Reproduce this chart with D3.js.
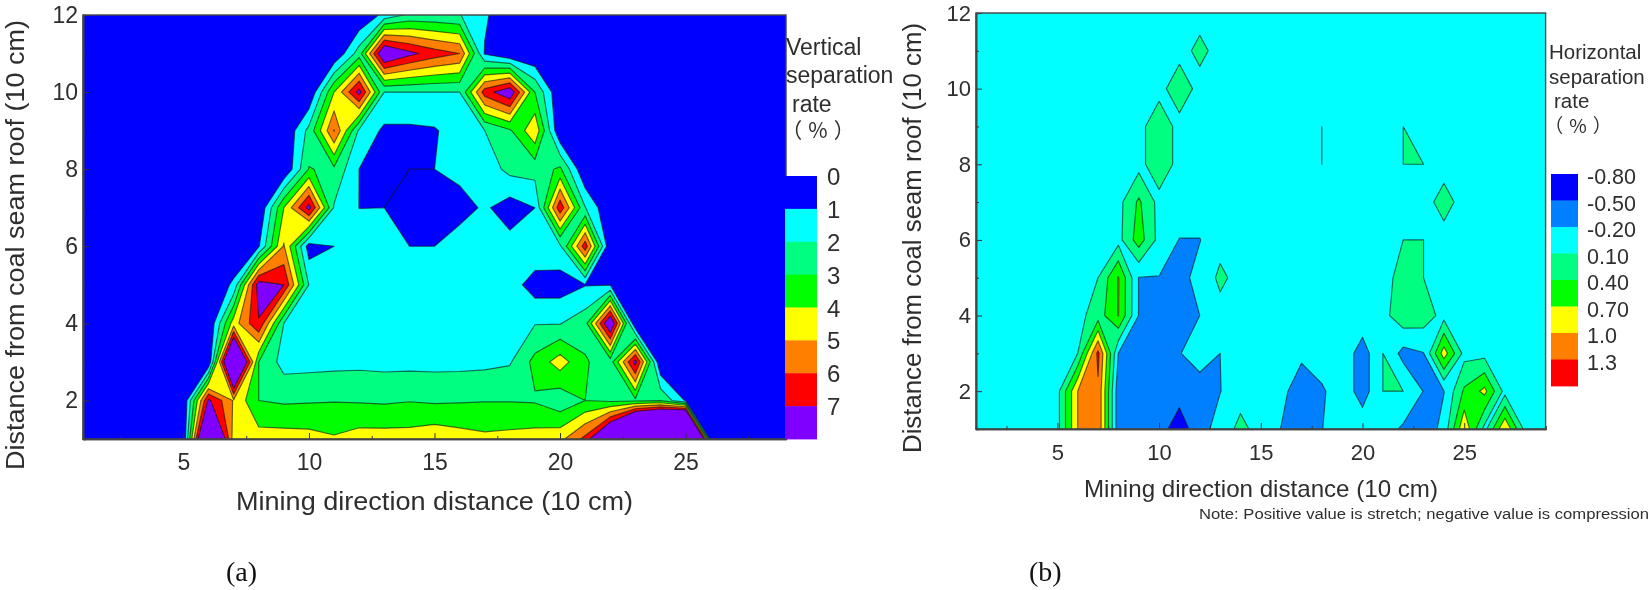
<!DOCTYPE html>
<html><head><meta charset="utf-8">
<script src="https://cdn.jsdelivr.net/npm/d3@7"></script>
<style>
html,body{margin:0;padding:0;background:#fff;overflow:hidden}
svg{display:block;filter:blur(.7px)}
text{font-family:"Liberation Sans",Arial,sans-serif;fill:#2e2e2e}
.serif{font-family:"Liberation Serif","Times New Roman",serif;fill:#111}
</style></head><body><svg id="c" width="1650" height="590"></svg>
<script>
// Panel (a): vertical separation rate, rows by y, columns x = 1..29
const vY12=[0,0,0,0,0,0,0,0,0,0,0,0,1.3,2.2,2.2,2.05,1.2,0,0,0,0,0,0,0,0,0,0,0,0];
const vY11=[0,0,0,0,0,0,0,0,0,0,0,2.5,8.5,7.3,6.5,6,.9,0,0,0,0,0,0,0,0,0,0,0,0];
const vY10=[0,0,0,0,0,0,0,0,0,0,4,7.4,2,2,2,2,6.5,7.9,3,0,0,0,0,0,0,0,0,0,0];
const vY9=[0,0,0,0,0,0,0,0,0,2.3,6.05,1.8,.8,.8,.9,1.5,2,2.85,4.8,0,0,0,0,0,0,0,0,0,0];
const vY8=[0,0,0,0,0,0,0,0,0,3.05,2.8,.99,.5,1,1,1.3,1.4,2.3,2.4,3.2,0,0,0,0,0,0,0,0,0];
const vY7=[0,0,0,0,0,0,0,0,4,7.4,1.9,.99,1,.5,.4,.6,1.15,.5,1,6.7,2.05,0,0,0,0,0,0,0,0];
const vY6=[0,0,0,0,0,0,0,.9,5.1,.5,1,1.5,1.5,1,1,1.5,1.5,1.36,1.85,1.8,6.6,0,0,0,0,0,0,0,0];
const vY5=[0,0,0,0,0,0,1.2,7.6,7,1.95,1.6,1.5,1.5,1.5,1.5,1.5,1.5,1.5,.5,.5,.95,.95,0,0,0,0,0,0,0];
const vY4=[0,0,0,0,0,0,4.5,6.9,2,1.5,1.5,1.5,1.5,1.5,1.5,1.5,1.5,1.6,1.95,1.95,2.6,8.4,0,0,0,0,0,0,0];
const vY3=[0,0,0,0,0,0,11.6,3,1.6,1.65,1.7,1.75,1.7,1.7,1.7,1.7,1.75,1.9,3.3,4.5,3.1,2.5,7.4,0,0,0,0,0,0];
const vY2=[0,0,0,0,0,7.2,4.9,3,2.85,2.9,2.95,2.9,2.85,2.95,2.85,2.9,2.95,2.95,2.9,2.3,3,2.8,2.8,2.9,.9,0,0,0,0];
const vY1=[0,0,0,0,0,12,4.5,4.45,4.45,4.38,4.12,4.45,4.45,4.45,4.7,4.45,4.24,4.33,4.45,4.7,6.3,10.3,17.6,21.4,26,0,0,0,0];
const verticalRows=[vY1,vY2,vY3,vY4,vY5,vY6,vY7,vY8,vY9,vY10,vY11,vY12];
const verticalLevels=[1,2,3,4,5,6,7];
const verticalLegendLabels=["0","1","2","3","4","5","6","7"];
const verticalColors=["#0000ff","#00ffff","#00ff80","#00ff00","#ffff00","#ff8000","#ff0000","#8000ff"];

// Panel (b): horizontal separation rate
const hY12=[0,0,0,0,0,0,0,0,0,0,0,0,0,0,0,0,0,0,0,0,0,0,0,0,0,0,0,0,0];
const hY11=[0,0,0,0,0,0,0,0,0,0,0,.17,0,0,0,0,0,0,0,0,0,0,0,0,0,0,0,0,0];
const hY10=[0,0,0,0,0,0,0,0,0,0,.28,0,0,0,0,0,0,0,0,0,0,0,0,0,0,0,0,0,0];
const hY9=[0,0,0,0,0,0,0,0,0,.3,0,0,0,0,0,0,0,.1,0,0,0,.1,0,0,0,0,0,0,0];
const hY8=[0,0,0,0,0,0,0,0,0,.3,0,0,0,0,0,0,0,.1,0,0,0,.1,.1,0,0,0,0,0,0];
const hY7=[0,0,0,0,0,0,0,0,.45,0,0,0,0,0,0,0,0,0,0,0,0,0,0,.2,0,0,0,0,0];
const hY6=[0,0,0,0,0,0,0,0,.55,0,-.21,-.21,0,0,0,0,0,0,0,0,0,.1,.1,0,0,0,0,0,0];
const hY5=[0,0,0,0,0,0,.1,.72,-.21,-.21,-.3,-.1,.16,0,0,0,0,0,0,0,0,.2,.1,0,0,0,0,0,0];
const hY4=[0,0,0,0,0,0,.25,.71,-.21,-.3,-.3,-.2,0,0,0,0,0,0,0,0,0,.3,.25,0,0,0,0,0,0];
const hY3=[0,0,0,0,0,.1,1.38,-.21,-.3,-.3,-.21,-.1,-.2,0,0,0,-.13,0,0,-.35,.1,-.3,-.21,.85,0,0,0,0,0];
const hY2=[0,0,0,0,0,1,1.25,-.4,-.4,-.4,-.4,-.3,-.21,0,0,-.1,-.4,-.25,0,-.35,.1,.1,-.21,-.21,.45,.78,0,0,0];
const hY1=[0,0,0,0,0,1,1.25,-.4,-.4,-.4,-.63,-.35,-.05,.17,0,-.21,-.4,-.21,0,0,-.05,-.25,-.4,-.1,.95,0,.98,0,0];
const horizontalRows=[hY1,hY2,hY3,hY4,hY5,hY6,hY7,hY8,hY9,hY10,hY11,hY12];
const horizontalLevels=[-.5,-.2,.1,.4,.7,1,1.3];
const horizontalLegendLabels=["-0.80","-0.50","-0.20","0.10","0.40","0.70","1.0","1.3"];
const horizontalColors=["#0000ff","#0080ff","#00ffff","#00ff80","#00ff00","#ffff00","#ff8000","#ff0000"];

const xMajor=[5,10,15,20,25];
const xMinor=[2.5,7.5,12.5,17.5,22.5,27.5];
const yMajor=[2,4,6,8,10,12];
const yMinor=[1,3,5,7,9,11];

const svg=d3.select("#c");
const nx=29, ny=12;
const LINE={stroke:"#111",op:.62,w:1.15};

function panel(o){
  const x=d3.scaleLinear().domain([1,29]).range([o.l,o.r]);
  const y=d3.scaleLinear().domain([1,12]).range([o.b,o.t]);
  const g=svg.append("g");
  const id="clip"+o.id;
  svg.append("clipPath").attr("id",id).append("rect")
    .attr("x",o.l).attr("y",o.t).attr("width",o.r-o.l).attr("height",o.b-o.t);
  const plot=g.append("g").attr("clip-path",`url(#${id})`);
  plot.append("rect").attr("x",o.l).attr("y",o.t).attr("width",o.r-o.l).attr("height",o.b-o.t).attr("fill",o.colors[0]);
  const vals=o.rows.flat();
  const path=d3.geoPath(d3.geoTransform({point(cx,cy){this.stream.point(x(cx+.5),y(cy+.5));}}));
  const cs=d3.contours().size([nx,ny]).thresholds(o.levels)(vals);
  plot.selectAll("path.f").data(cs).join("path").attr("class","f")
    .attr("d",path).attr("fill",(d,i)=>o.colors[i+1])
    .attr("stroke",d=>d.value===o.ridgeLevel?"none":LINE.stroke)
    .attr("stroke-opacity",LINE.op).attr("stroke-width",LINE.w).attr("stroke-linejoin","round");
  if(o.ridgeLevel!==undefined){
    // the same level traced from below, so lines through points lying exactly on it are kept
    const neg=d3.contours().size([nx,ny]).thresholds([-(o.ridgeLevel-1e-4)])(vals.map(v=>-v));
    plot.selectAll("path.r").data(neg).join("path").attr("class","r")
      .attr("d",path).attr("fill","none").attr("stroke",LINE.stroke)
      .attr("stroke-opacity",LINE.op).attr("stroke-width",LINE.w).attr("stroke-linejoin","round");
  }
  // axes
  const ax=(a,vals,size)=>a.tickValues(vals).tickSize(size).tickFormat("");
  const style=s=>{s.selectAll(".domain").attr("stroke","#444").attr("stroke-width",1.6);
    s.selectAll("line").attr("stroke","#333").attr("stroke-width",1);};
  const bottom=g.append("g").attr("transform",`translate(0,${o.b})`);
  bottom.call(d3.axisBottom(x).tickValues(xMajor).tickSize(-6).tickPadding(15).tickSizeOuter(0)).call(style);
  bottom.selectAll("text").attr("font-size",o.tickFont).attr("fill","#2e2e2e");
  g.append("g").attr("transform",`translate(0,${o.b})`).call(ax(d3.axisBottom(x).tickSizeOuter(0),xMinor,-3)).call(style);
  const left=g.append("g").attr("transform",`translate(${o.l},0)`);
  left.call(d3.axisLeft(y).tickValues(yMajor).tickSize(-6).tickPadding(o.yPad).tickSizeOuter(0)).call(style);
  left.selectAll("text").attr("font-size",o.tickFont).attr("fill","#2e2e2e");
  g.append("g").attr("transform",`translate(${o.l},0)`).call(ax(d3.axisLeft(y).tickSizeOuter(0),yMinor,-3)).call(style);
  g.append("rect").attr("x",o.l).attr("y",o.t).attr("width",o.r-o.l).attr("height",o.b-o.t)
    .attr("fill","none").attr("stroke","#444").attr("stroke-width",1.4);
  // legend
  const sw=o.colors.length, h=(o.lgB-o.lgT)/sw;
  const lg=g.append("g");
  o.colors.forEach((c,i)=>{
    lg.append("rect").attr("x",o.lgL).attr("y",o.lgT+i*h).attr("width",o.lgR-o.lgL).attr("height",h+.4).attr("fill",c);
  });
  lg.selectAll("text").data(o.labels).join("text")
    .attr("x",o.lgText).attr("y",(d,i)=>o.lgT+i*h+o.lgDy).attr("font-size",o.lgFont).text(d=>d);
  o.title.forEach(t=>{
    const e=g.append("text").attr("x",t[1]).attr("y",t[2]).attr("font-size",t[3]).text(t[0]);
    if(t[4]) e.attr("text-anchor",t[4]);
    if(t[5]) e.style("font-family",t[5]).style("letter-spacing","6px");
  });
  // axis titles
  const tl=(e,len)=>e.attr("textLength",len).attr("lengthAdjust","spacingAndGlyphs");
  tl(g.append("text").attr("x",o.xt[0]).attr("y",o.xt[1]).attr("font-size",o.xt[2]).text("Mining direction distance (10 cm)"),o.xt[3]);
  tl(g.append("text").attr("transform",`translate(${o.yt[0]},${o.yt[1]}) rotate(-90)`).attr("font-size",o.yt[2]).text("Distance from coal seam roof (10 cm)"),o.yt[3]);
}

const cjk='"Noto Sans CJK SC",sans-serif';
panel({id:"a",l:83,r:786,t:15,b:439,rows:verticalRows,levels:verticalLevels,colors:verticalColors,labels:verticalLegendLabels,ridgeLevel:1,
  tickFont:23,yPad:5,lgL:785,lgR:817,lgT:176,lgB:439,lgText:827,lgDy:9,lgFont:24,
  title:[["Vertical",786,55,23],["separation",786,83,23],["rate",792,112,23],["（%）",821,138,21,"middle",cjk]],
  xt:[236,510,26,397],yt:[23.5,470,25,450]});
panel({id:"b",l:976,r:1545.6,t:13,b:429,rows:horizontalRows,levels:horizontalLevels,colors:horizontalColors,labels:horizontalLegendLabels,
  tickFont:22,yPad:5,lgL:1551,lgR:1578,lgT:174,lgB:386,lgText:1587,lgDy:10,lgFont:21.5,
  title:[["Horizontal",1549,59,20.5],["separation",1549,84,20.5],["rate",1554,108,20.5],["（%）",1581,133,19,"middle",cjk]],
  xt:[1084,497,24,354],yt:[921,453,25,430]});
svg.append("text").attr("x",1199).attr("y",519).attr("font-size",14).attr("textLength",450).attr("lengthAdjust","spacingAndGlyphs")
  .text("Note: Positive value is stretch; negative value is compression");
svg.append("text").attr("class","serif").attr("x",226).attr("y",581).attr("font-size",28).text("(a)");
svg.append("text").attr("class","serif").attr("x",1029).attr("y",581).attr("font-size",28).text("(b)");
</script></body></html>
